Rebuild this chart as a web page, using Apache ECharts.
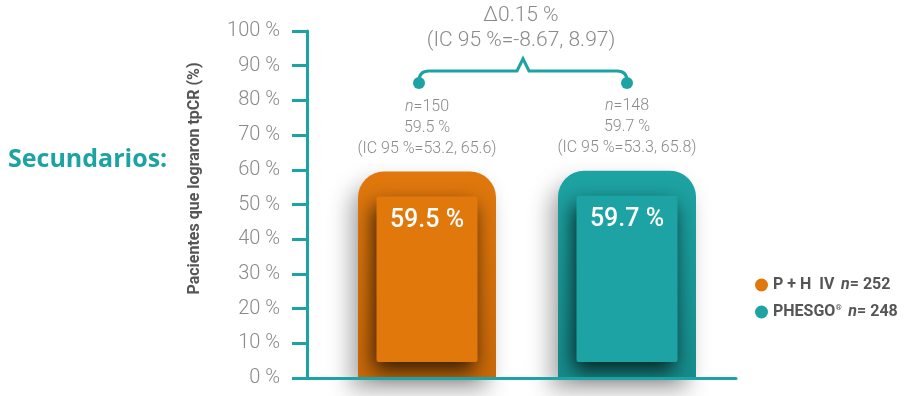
<!DOCTYPE html>
<html><head><meta charset="utf-8">
<script src="https://cdn.jsdelivr.net/npm/echarts@6/dist/echarts.min.js"></script>
<style>html,body{margin:0;padding:0;background:#fff}#c{width:923px;height:396px}</style>
</head><body><div id="c"></div>
<script>
// ---- data ----
const categories = ['P + H  IV', 'PHESGO®'];
const values = [59.5, 59.7];
const nCounts = [150, 148];
const ciLow = [53.2, 53.3];
const ciHigh = [65.6, 65.8];
const legendN = [252, 248];
const diffLabel = 'Δ0.15 %';
const diffCI = '(IC 95 %=-8.67, 8.97)';
const bracketLevels = [85, 88.5, 92]; // dot, line, peak (in % units)
const sideTitle = 'Secundarios:';
const yAxisTitle = 'Pacientes que lograron tpCR (%)';
const yMin = 0, yMax = 100, yStep = 10;

// ---- style ----
const TEAL = '#1DA3A3';
const colors = ['#E0780C', '#1DA3A3'];
const darkColors = ['#C96808', '#168C8C'];
const GRAY = '#8a8a8a';
const LIGHT = 'Roboto';

const chart = echarts.init(document.getElementById('c'), null, {renderer: 'canvas'});

const barSeries = categories.map((name, i) => ({
  type: 'bar',
  name: name,
  xAxisIndex: 0, yAxisIndex: 0,
  barWidth: 138,
  barGap: '-100%',
  z: 2,
  data: values.map((v, j) => j === i ? v : '-'),
  itemStyle: {
    borderRadius: [26, 26, 0, 0],
    color: new echarts.graphic.LinearGradient(0, 0, 0, 1, [
      {offset: 0, color: colors[i]}, {offset: 1, color: darkColors[i]}
    ]),
    shadowBlur: 22, shadowColor: 'rgba(0,0,0,0.32)', shadowOffsetX: -8, shadowOffsetY: 12
  },
  label: {
    show: true,
    position: 'top',
    distance: 12,
    formatter: () => `{i|n}{t|=${nCounts[i]}}\n{t|${values[i].toFixed(1)} %}\n{t|(IC 95 %=${ciLow[i].toFixed(1)}, ${ciHigh[i].toFixed(1)})}`,
    rich: {
      i: {fontFamily: LIGHT, fontWeight: 300, fontStyle: 'italic', fontSize: 16, color: GRAY, lineHeight: 21},
      t: {fontFamily: LIGHT, fontWeight: 300, fontSize: 16, color: GRAY, lineHeight: 21}
    }
  }
}));

const innerSeries = {
  type: 'custom',
  xAxisIndex: 0, yAxisIndex: 0,
  z: 3,
  clip: false,
  data: values.map((v, i) => [i, v]),
  renderItem: (params, api) => {
    const i = api.value(0), v = api.value(1);
    const top = api.coord([i, v]);
    const base = api.coord([i, 0]);
    const w = api.size([1, 0])[0] * 0.505;
    const y0 = top[1] + 25, y1 = base[1] - 16;
    return {
      type: 'group',
      children: [
        {type: 'rect', shape: {x: top[0] - w / 2, y: y0, width: w, height: y1 - y0, r: 2},
         style: {fill: colors[i], shadowBlur: 20, shadowColor: 'rgba(0,0,0,0.75)', shadowOffsetX: -3, shadowOffsetY: 9}},
        {type: 'text', style: {text: values[i].toFixed(1) + ' %', x: top[0], y: y0 + 24, align: 'center', verticalAlign: 'middle',
          fill: '#fff', font: '500 25px Roboto'}}
      ]
    };
  }
};

const bracketSeries = {
  type: 'custom',
  xAxisIndex: 0, yAxisIndex: 0,
  z: 20,
  clip: false,
  silent: true,
  data: [[0, bracketLevels[0]]],
  renderItem: (params, api) => {
    const pa = api.coord([0, bracketLevels[0]]);
    const pb = api.coord([1, bracketLevels[0]]);
    const hy = api.coord([0, bracketLevels[1]])[1];
    const py = api.coord([0, bracketLevels[2]])[1];
    const L = pa[0] - 8, R = pb[0], dy = pa[1], M = (L + R) / 2, r = 10;
    const path = `M${L} ${dy} L${L} ${hy + r} Q${L} ${hy} ${L + r} ${hy} L${M - 6} ${hy} L${M} ${py} L${M + 6} ${hy} L${R - r} ${hy} Q${R} ${hy} ${R} ${hy + r} L${R} ${dy}`;
    return {
      type: 'group',
      children: [
        {type: 'path', shape: {pathData: path}, style: {fill: 'none', stroke: TEAL, lineWidth: 3}},
        {type: 'circle', shape: {cx: L, cy: dy, r: 6}, style: {fill: TEAL}},
        {type: 'circle', shape: {cx: R, cy: dy, r: 6}, style: {fill: TEAL}},
        {type: 'text', style: {text: diffLabel, x: M - 2, y: py - 43, align: 'center', verticalAlign: 'middle', fill: GRAY, font: '300 21px Roboto'}},
        {type: 'text', style: {text: diffCI, x: M - 2, y: py - 18, align: 'center', verticalAlign: 'middle', fill: GRAY, font: '300 21px Roboto'}}
      ]
    };
  }
};

const option = {
  animation: false,
  backgroundColor: '#fff',
  grid: [
    {left: 327, right: 196, top: 31, bottom: 18},
    {left: 307, right: 187, top: 31, bottom: 18}
  ],
  xAxis: [
    {type: 'category', gridIndex: 0, data: categories, show: false},
    {type: 'category', gridIndex: 1, data: [''], z: 10,
     axisLine: {show: true, lineStyle: {color: TEAL, width: 3}},
     axisTick: {show: false}, axisLabel: {show: false}}
  ],
  yAxis: [
    {type: 'value', gridIndex: 0, min: yMin, max: yMax, interval: yStep, show: false},
    {type: 'value', gridIndex: 1, min: yMin, max: yMax, interval: yStep, z: 10,
     name: yAxisTitle, nameLocation: 'middle', nameGap: 104,
     nameTextStyle: {fontFamily: 'Roboto', fontWeight: 700, fontSize: 16, color: '#555', padding: [0, 0, 0, 52]},
     axisLine: {show: true, lineStyle: {color: TEAL, width: 3}},
     axisTick: {show: true, length: 15, lineStyle: {color: TEAL, width: 3}},
     splitLine: {show: false},
     axisLabel: {formatter: '{value} %', fontFamily: LIGHT, fontWeight: 300, fontSize: 20, color: GRAY, margin: 27}}
  ],
  legend: {
    orient: 'vertical', left: 750, top: 272,
    icon: 'circle', itemWidth: 13, itemHeight: 13, itemGap: 11,
    data: categories.map((c, i) => ({name: c, itemStyle: {color: colors[i]}})),
    formatter: (name) => {
      const i = categories.indexOf(name);
      const parts = name.split('®');
      const nm = parts.length > 1 ? `{b|${parts[0]}}{s|®}` : `{b|${name}}`;
      return `${nm}  {ni|n}{b|= ${legendN[i]}}`;
    },
    textStyle: {
      rich: {
        b: {fontFamily: 'Roboto', fontWeight: 700, fontSize: 16, color: '#555'},
        ni: {fontFamily: 'Roboto', fontWeight: 700, fontStyle: 'italic', fontSize: 16, color: '#555'},
        s: {fontFamily: 'Roboto', fontWeight: 700, fontSize: 8, color: '#555', padding: [0, 0, 8, 0]}
      }
    }
  },
  graphic: [
    {type: 'text', left: 8, top: 147, style: {text: sideTitle, fill: TEAL, font: '700 25px "Open Sans"'}, z: 20}
  ],
  series: [...barSeries, innerSeries, bracketSeries]
};
chart.setOption(option);
</script></body></html>
